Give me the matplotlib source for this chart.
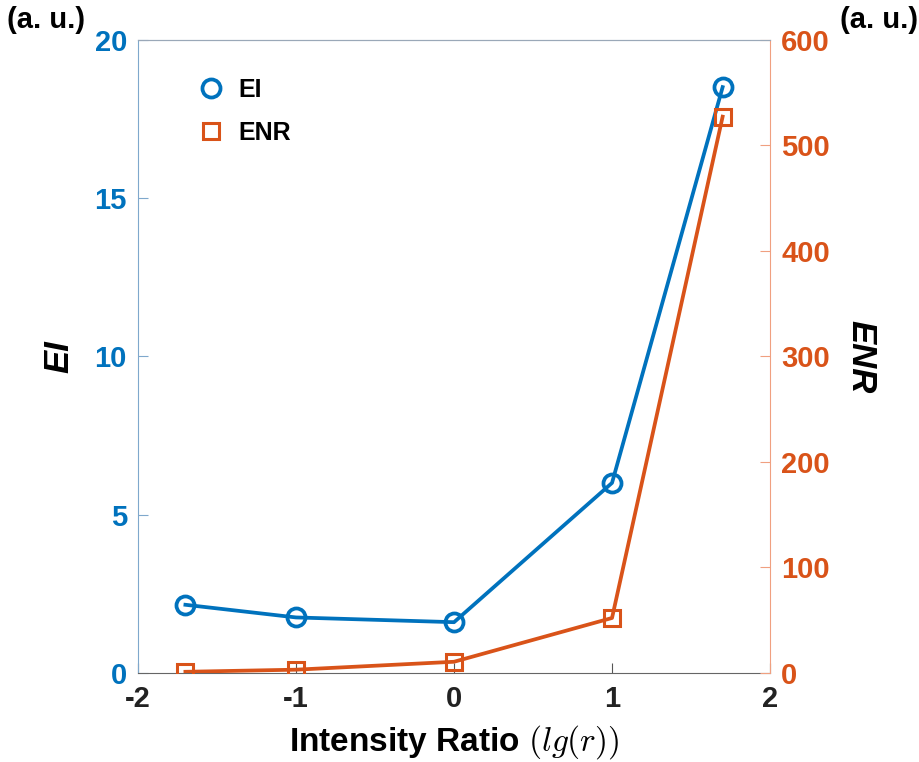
import matplotlib.pyplot as plt

plt.rcParams['font.family'] = ['Liberation Sans', 'DejaVu Sans']
plt.rcParams['mathtext.fontset'] = 'cm'
plt.rcParams['axes.unicode_minus'] = False

# intensity ratio (log10) and the two measured quantities
lg_r = [-1.7, -1.0, 0.0, 1.0, 1.7]
ei = [2.15, 1.75, 1.6, 6.0, 18.5]
enr = [1, 3, 10.5, 52, 527]

blue = '#0072BD'
orange = '#D95319'

fig = plt.figure(figsize=(9.2, 7.62), dpi=100)
ax = fig.add_axes([0.15, 0.117, 0.687, 0.831])
ax2 = ax.twinx()

l1, = ax.plot(lg_r, ei, '-o', color=blue, lw=2.7, ms=13, mfc='none', mew=2.7, label='EI')
l2, = ax2.plot(lg_r, enr, '-s', color=orange, lw=2.7, ms=12, mfc='none', mew=2.2, label='ENR')

ax.set_xlim(-2, 2)
ax.set_ylim(0, 20)
ax2.set_ylim(0, 600)
ax.set_xticks([-2, -1, 0, 1, 2])
ax.set_yticks([0, 5, 10, 15, 20])
ax2.set_yticks([0, 100, 200, 300, 400, 500, 600])

ax.tick_params(axis='x', direction='in', length=7, labelsize=21, pad=9, colors='#555555', labelcolor='#222222')
ax.tick_params(axis='y', direction='in', length=7, labelsize=21, pad=8, colors='#7fa8cc', labelcolor=blue)
ax2.tick_params(axis='y', direction='in', length=7, labelsize=21, pad=8, colors='#f0a080', labelcolor=orange)
for lab in ax.get_xticklabels() + ax.get_yticklabels() + ax2.get_yticklabels():
    lab.set_fontweight('bold')

ax.spines['left'].set_color('#7fa8cc')
ax.spines['top'].set_color('#9aa8b8')
ax.spines['bottom'].set_color('#666666')
ax2.spines['left'].set_visible(False)
ax2.spines['top'].set_color('#9aa8b8')
ax2.spines['bottom'].set_visible(False)
ax2.spines['right'].set_color('#f0a080')
ax.spines['right'].set_visible(False)

ax.set_xlabel(r'Intensity Ratio $(lg(r))$', fontsize=24, fontweight='bold', labelpad=7)
ax.set_ylabel('EI', fontsize=25, fontweight='bold', style='italic', labelpad=14)
ax2.set_ylabel('ENR', fontsize=25, fontweight='bold', style='italic', rotation=-90, labelpad=34)

fig.text(0.008, 0.974, '(a. u.)', fontsize=21, fontweight='bold', va='center', ha='left')
fig.text(0.998, 0.974, '(a. u.)', fontsize=21, fontweight='bold', va='center', ha='right')

leg = ax.legend(handles=[l1, l2], loc='upper left', bbox_to_anchor=(0.06, 0.975), frameon=False,
                fontsize=18, handlelength=1.0, handletextpad=0.6, labelspacing=0.75)
for h in leg.legend_handles:
    h.set_linestyle('none')
for t in leg.get_texts():
    t.set_fontweight('bold')

plt.savefig('out.png', dpi=100)
